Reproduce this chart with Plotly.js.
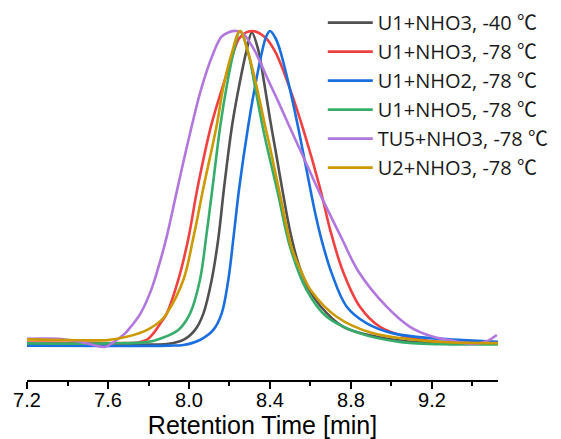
<!DOCTYPE html>
<html>
<head>
<meta charset="utf-8">
<script src="https://cdn.plot.ly/plotly-3.0.1.min.js"></script>
<style>html,body{margin:0;padding:0;background:#fff;}#chart{width:561px;height:439px;}</style>
</head>
<body>
<div id="chart"></div>
<script>
// Series names (legend)
const seriesNames = ["U1+NHO3, -40 ℃", "U1+NHO3, -78 ℃", "U1+NHO2, -78 ℃", "U1+NHO5, -78 ℃", "TU5+NHO3, -78 ℃", "U2+NHO3, -78 ℃"];
const seriesColors = ["#515151", "#F14040", "#1A6FDF", "#37AD6B", "#B177DE", "#CC9900"];

// Retention time (min) / normalized signal
const blackT = [7.2, 7.6, 7.9, 7.972, 8.03, 8.071, 8.112, 8.145, 8.173, 8.213, 8.252, 8.285, 8.31, 8.342, 8.37, 8.40, 8.43, 8.465, 8.50, 8.54, 8.59, 8.647, 8.762, 8.927, 9.1, 9.3, 9.53];
const blackV = [0.002, 0.002, 0.004, 0.016, 0.048, 0.10, 0.207, 0.34, 0.50, 0.70, 0.84, 0.94, 0.995, 0.94, 0.84, 0.72, 0.61, 0.48, 0.36, 0.26, 0.18, 0.125, 0.058, 0.026, 0.01, 0.005, 0.004];

const redT = [7.2, 7.5, 7.75, 7.79, 7.824, 7.865, 7.89, 7.947, 7.997, 8.042, 8.11, 8.17, 8.219, 8.252, 8.31, 8.375, 8.425, 8.499, 8.565, 8.647, 8.70, 8.76, 8.844, 8.943, 9.075, 9.2, 9.53];
const redV = [0.008, 0.007, 0.008, 0.016, 0.037, 0.075, 0.10, 0.207, 0.34, 0.50, 0.70, 0.83, 0.93, 0.98, 1.0, 0.98, 0.935, 0.815, 0.685, 0.50, 0.36, 0.235, 0.122, 0.058, 0.026, 0.012, 0.008];

const blueT = [7.2, 7.6, 7.9, 7.972, 8.054, 8.12, 8.161, 8.194, 8.221, 8.248, 8.293, 8.326, 8.359, 8.38, 8.40, 8.425, 8.449, 8.50, 8.54, 8.58, 8.62, 8.655, 8.705, 8.779, 8.878, 9.009, 9.206, 9.35, 9.53];
const blueV = [-0.002, -0.003, -0.002, 0.0, 0.016, 0.048, 0.10, 0.207, 0.35, 0.50, 0.70, 0.823, 0.929, 0.98, 1.0, 0.98, 0.94, 0.81, 0.69, 0.56, 0.43, 0.334, 0.228, 0.122, 0.069, 0.037, 0.021, 0.016, 0.01];

const greenT = [7.2, 7.6, 7.8, 7.857, 7.947, 8.005, 8.054, 8.086, 8.116, 8.155, 8.186, 8.219, 8.252, 8.293, 8.326, 8.367, 8.44, 8.50, 8.581, 8.68, 8.844, 9.04, 9.3, 9.53];
const greenV = [0.005, 0.005, 0.01, 0.02, 0.048, 0.10, 0.207, 0.35, 0.50, 0.70, 0.823, 0.929, 1.0, 0.929, 0.823, 0.685, 0.48, 0.31, 0.175, 0.09, 0.037, 0.01, 0.002, 0.002];

const purpleT = [7.2, 7.35, 7.45, 7.585, 7.63, 7.684, 7.70, 7.76, 7.81, 7.85, 7.89, 7.94, 8.0, 8.06, 8.12, 8.161, 8.20, 8.235, 8.27, 8.326, 8.39, 8.441, 8.50, 8.557, 8.655, 8.754, 8.836, 8.976, 9.091, 9.206, 9.30, 9.371, 9.42, 9.47, 9.52];
const purpleV = [0.02, 0.02, 0.012, -0.006, 0.01, 0.037, 0.048, 0.10, 0.17, 0.25, 0.345, 0.49, 0.66, 0.815, 0.929, 0.982, 0.997, 1.0, 0.99, 0.935, 0.845, 0.775, 0.69, 0.61, 0.47, 0.34, 0.235, 0.122, 0.058, 0.026, 0.014, 0.005, 0.004, 0.012, 0.032];

const goldT = [7.2, 7.4, 7.6, 7.692, 7.799, 7.865, 7.89, 7.972, 8.021, 8.071, 8.137, 8.17, 8.211, 8.252, 8.293, 8.334, 8.375, 8.40, 8.449, 8.507, 8.55, 8.606, 8.729, 8.91, 9.124, 9.3, 9.53];
const goldV = [0.018, 0.016, 0.016, 0.026, 0.05, 0.08, 0.10, 0.207, 0.34, 0.50, 0.70, 0.823, 0.929, 1.0, 0.929, 0.823, 0.70, 0.63, 0.48, 0.31, 0.24, 0.17, 0.09, 0.037, 0.016, 0.008, 0.006];

// Tick labels
const tickVals = [7.2, 7.6, 8.0, 8.4, 8.8, 9.2];
const tickText = ["7.2", "7.6", "8.0", "8.4", "8.8", "9.2"];

const xs = [blackT, redT, blueT, greenT, purpleT, goldT];
const ys = [blackV, redV, blueV, greenV, purpleV, goldV];

const traces = seriesNames.map((name, i) => ({
  x: xs[i], y: ys[i], name: name, type: 'scatter', mode: 'lines',
  line: {color: seriesColors[i], width: 2.6, shape: 'spline', smoothing: 1}
}));

const layout = {
  width: 561, height: 439,
  margin: {l: 27, r: 63, t: 20, b: 59, autoexpand: false},
  paper_bgcolor: '#ffffff', plot_bgcolor: '#ffffff',
  showlegend: true,
  legend: {
    x: 0.628, y: 1.047, xanchor: 'left', yanchor: 'top',
    bgcolor: 'rgba(0,0,0,0)', borderwidth: 0,
    font: {family: 'Open Sans, Noto Sans CJK SC, sans-serif', size: 20, color: '#1a1a1a'},
    itemwidth: 45, tracegroupgap: 0
  },
  xaxis: {
    range: [7.2, 9.526], autorange: false,
    tickvals: tickVals, ticktext: tickText,
    ticks: 'outside', ticklen: 7, tickwidth: 2, tickcolor: '#000',
    minor: {dtick: 0.2, tick0: 7.2, ticks: 'outside', ticklen: 4, tickwidth: 2, tickcolor: '#000', showgrid: false},
    showline: true, linecolor: '#000', linewidth: 2,
    showgrid: false, zeroline: false,
    ticklabelstandoff: -6,
    tickfont: {family: 'Liberation Sans, Arial, sans-serif', size: 20, color: '#000'},
    title: {text: 'Retention Time [min]', font: {family: 'Liberation Sans, Arial, sans-serif', size: 25, color: '#000'}, standoff: 4},
    automargin: false
  },
  yaxis: {
    range: [-0.1115, 1.035], autorange: false,
    visible: false, showgrid: false, zeroline: false
  }
};

Plotly.newPlot('chart', traces, layout, {displayModeBar: false, staticPlot: true});
</script>
</body>
</html>
